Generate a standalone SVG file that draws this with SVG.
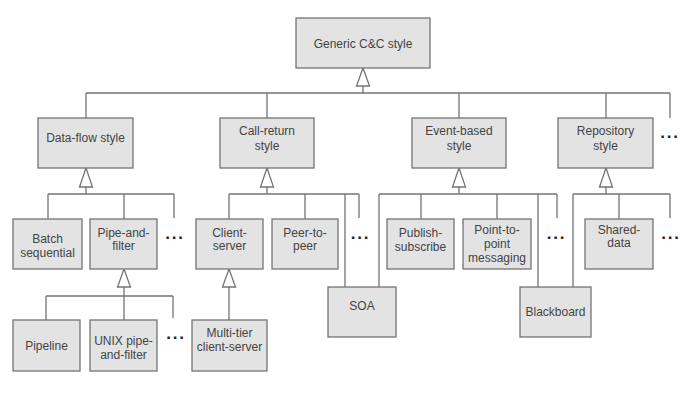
<svg xmlns="http://www.w3.org/2000/svg" width="688" height="400" viewBox="0 0 688 400">
<style>
.box{fill:#e3e3e3;stroke:#747474;stroke-width:1.3}
.t{font-family:"Liberation Sans",Arial,sans-serif;font-size:12px;fill:#444;text-anchor:middle}
.dots{font-family:"Liberation Sans",Arial,sans-serif;font-size:17px;font-weight:bold;fill:#222;text-anchor:middle;letter-spacing:1.8px}
.ln{fill:none;stroke:#747474;stroke-width:1.3}
.tri{fill:#fff;stroke:#747474;stroke-width:1.3}
</style>
<rect width="688" height="400" fill="#fff"/>
<g id="connectors">
<path class="ln" d="M363 86V93M86 93H670M86 93V118M267 93V118M459 93V118M606 93V118M670 93V118"/>
<polygon class="tri" points="363,68 356.5,86 369.5,86"/>
<path class="ln" d="M86 187V194M48 194H174M48 194V219M124 194V219M174 194V218"/>
<polygon class="tri" points="86,168 79.5,187 92.5,187"/>
<path class="ln" d="M267 187V194M229 194H359M229 194V219M305 194V219M345 194V287M359 194V218"/>
<polygon class="tri" points="267,168 260.5,187 273.5,187"/>
<path class="ln" d="M459 187V194M379 194H557M379 194V287M421 194V219M497 194V219M538 194V287M557 194V218"/>
<polygon class="tri" points="459,168 452.5,187 465.5,187"/>
<path class="ln" d="M606 187V194M573 194H670M573 194V287M619 194V219M670 194V218"/>
<polygon class="tri" points="606,168 599.5,187 612.5,187"/>
<path class="ln" d="M124 287V296M46 296H173M46 296V320M124 296V320M173 296V318"/>
<polygon class="tri" points="124,269 117.5,287 130.5,287"/>
<path class="ln" d="M229 287V320"/>
<polygon class="tri" points="229,269 222.5,287 235.5,287"/>
</g>
<g id="generic"><rect class="box" x="296" y="18" width="134" height="50"/><text class="t" x="363" y="48">Generic C&amp;C style</text></g>
<g id="dataflow"><rect class="box" x="38" y="118" width="95" height="50"/><text class="t" x="85.5" y="142">Data-flow style</text></g>
<g id="callreturn"><rect class="box" x="220" y="118" width="94" height="50"/><text class="t" x="267" y="135">Call-return</text><text class="t" x="267" y="150">style</text></g>
<g id="eventbased"><rect class="box" x="412" y="118" width="94" height="50"/><text class="t" x="459" y="135">Event-based</text><text class="t" x="459" y="150">style</text></g>
<g id="repository"><rect class="box" x="558" y="118" width="95" height="50"/><text class="t" x="605.5" y="135">Repository</text><text class="t" x="605.5" y="150">style</text></g>
<g id="batch"><rect class="box" x="13" y="219" width="69" height="50"/><text class="t" x="47.5" y="243">Batch</text><text class="t" x="47.5" y="257">sequential</text></g>
<g id="pipefilter"><rect class="box" x="90" y="219" width="67" height="50"/><text class="t" x="123.5" y="237">Pipe-and-</text><text class="t" x="123.5" y="250">filter</text></g>
<g id="clientserver"><rect class="box" x="196" y="219" width="67" height="50"/><text class="t" x="229.5" y="237">Client-</text><text class="t" x="229.5" y="250">server</text></g>
<g id="peer"><rect class="box" x="272" y="219" width="66" height="50"/><text class="t" x="305" y="237">Peer-to-</text><text class="t" x="305" y="250">peer</text></g>
<g id="pubsub"><rect class="box" x="387" y="219" width="67" height="50"/><text class="t" x="420.5" y="237">Publish-</text><text class="t" x="420.5" y="251">subscribe</text></g>
<g id="p2p"><rect class="box" x="463" y="219" width="68" height="50"/><text class="t" x="497" y="234">Point-to-</text><text class="t" x="497" y="248">point</text><text class="t" x="497" y="262">messaging</text></g>
<g id="shared"><rect class="box" x="585" y="219" width="68" height="50"/><text class="t" x="619" y="234">Shared-</text><text class="t" x="619" y="247">data</text></g>
<g id="soa"><rect class="box" x="328" y="287" width="68" height="50"/><text class="t" x="362" y="310">SOA</text></g>
<g id="blackboard"><rect class="box" x="520" y="287" width="71" height="50"/><text class="t" x="555.5" y="316">Blackboard</text></g>
<g id="pipeline"><rect class="box" x="13" y="320" width="67" height="51"/><text class="t" x="46.5" y="350">Pipeline</text></g>
<g id="unix"><rect class="box" x="90" y="320" width="67" height="51"/><text class="t" x="123.5" y="345">UNIX pipe-</text><text class="t" x="123.5" y="358.5">and-filter</text></g>
<g id="multitier"><rect class="box" x="192" y="320" width="75" height="51"/><text class="t" x="229.5" y="337">Multi-tier</text><text class="t" x="229.5" y="351">client-server</text></g>
<g id="ellipses">
<text class="dots" x="670" y="138">...</text>
<text class="dots" x="175" y="238.5">...</text>
<text class="dots" x="360.5" y="238.5">...</text>
<text class="dots" x="556.5" y="238.5">...</text>
<text class="dots" x="671" y="238.5">...</text>
<text class="dots" x="176" y="339">...</text>
</g>
</svg>
